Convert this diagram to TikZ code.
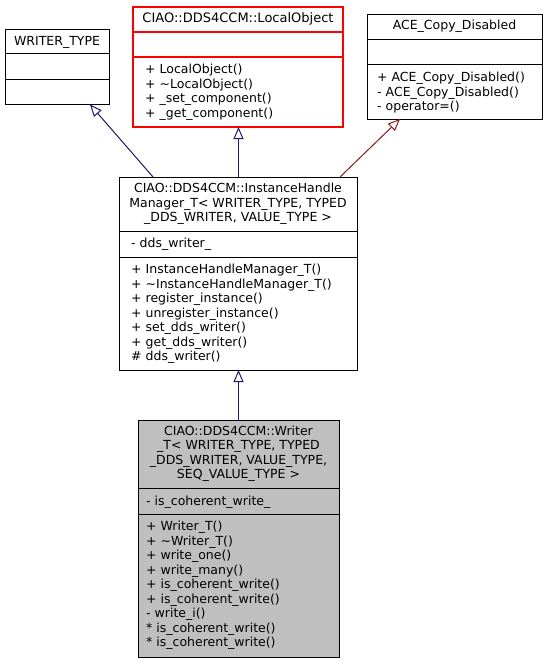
\documentclass[tikz,border=0pt]{standalone}
\usepackage{fontspec}
\setmainfont{DejaVu Sans}
\usetikzlibrary{arrows.meta}

\definecolor{edgeblue}{HTML}{191970}
\definecolor{edgered}{HTML}{8B1A1A}
\definecolor{classgray}{HTML}{BFBFBF}
\definecolor{boxred}{HTML}{FF0000}

\tikzset{
  umlbox/.style={draw, line width=1pt, anchor=north west, inner sep=0pt, outer sep=0pt},
  umltitle/.style={anchor=base, inner sep=0pt, font=\fontsize{12.5}{14.5}\selectfont},
  umlmember/.style={anchor=base west, inner sep=0pt, font=\fontsize{12.5}{14.5}\selectfont},
  inherit/.style={line width=1pt, -{Triangle[length=12pt, width=10pt, fill=white]}}
}

\begin{document}
\begin{tikzpicture}[x=1pt, y=-1pt]
\useasboundingbox (0,0) rectangle (547,664);

% WRITER_TYPE
\node[umlbox, minimum width=104pt, minimum height=75pt] (wtype) at (5,29) {};
\draw[line width=1pt] (wtype.west |- 0,53) -- (wtype.east |- 0,53);
\draw[line width=1pt] (wtype.west |- 0,79) -- (wtype.east |- 0,79);
\node[umltitle] (wtypet) at (57,45.5) {WRITER\_TYPE};

% LocalObject (rosso)
\node[umlbox, draw=boxred, line width=1.3pt, minimum width=210pt, minimum height=120pt] (lobj) at (133,7) {};
\draw[boxred, line width=1.3pt] (lobj.west |- 0,32) -- (lobj.east |- 0,32);
\draw[boxred, line width=1.3pt] (lobj.west |- 0,57) -- (lobj.east |- 0,57);
\node[umltitle, font=\fontsize{13}{14.5}\selectfont] (lobjt) at (238,22.5) {CIAO::DDS4CCM::LocalObject};
\foreach \m [count=\i from 0] in {+ LocalObject(), + \textasciitilde LocalObject(),
    + \_set\_component(), + \_get\_component()}
  \node[umlmember] (lobjm\i) at (145,{73.5+14.5*\i}) {\m};

% ACE_Copy_Disabled
\node[umlbox, minimum width=175pt, minimum height=105pt] (ace) at (367,14) {};
\draw[line width=1pt] (ace.west |- 0,39) -- (ace.east |- 0,39);
\draw[line width=1pt] (ace.west |- 0,64) -- (ace.east |- 0,64);
\node[umltitle] (acet) at (454.5,29.5) {ACE\_Copy\_Disabled};
\foreach \m [count=\i from 0] in {+ ACE\_Copy\_Disabled(), - ACE\_Copy\_Disabled(), - operator=()}
  \node[umlmember] (acem\i) at (377,{81.5+14.5*\i}) {\m};

% InstanceHandleManager_T
\node[umlbox, minimum width=238pt, minimum height=193pt] (ihm) at (119,177) {};
\draw[line width=1pt] (ihm.west |- 0,231) -- (ihm.east |- 0,231);
\draw[line width=1pt] (ihm.west |- 0,257) -- (ihm.east |- 0,257);
\foreach \t [count=\i from 0] in {CIAO::DDS4CCM::InstanceHandle, {Manager\_T< WRITER\_TYPE, TYPED},
    \_DDS\_WRITER{,} VALUE\_TYPE >}
  \node[umltitle] (ihmt\i) at (238,{192.5+14.5*\i}) {\t};
\node[umlmember] (ihma) at (131,247.5) {- dds\_writer\_};
\foreach \m [count=\i from 0] in {+ InstanceHandleManager\_T(), + \textasciitilde InstanceHandleManager\_T(),
    + register\_instance(), + unregister\_instance(), + set\_dds\_writer(),
    + get\_dds\_writer(), \# dds\_writer()}
  \node[umlmember] (ihmm\i) at (131,{273.5+14.5*\i}) {\m};

% Writer_T (grigio)
\node[umlbox, fill=classgray, minimum width=201pt, minimum height=237pt] (wrt) at (138,420) {};
\draw[line width=1pt] (wrt.west |- 0,488) -- (wrt.east |- 0,488);
\draw[line width=1pt] (wrt.west |- 0,514) -- (wrt.east |- 0,514);
\foreach \t [count=\i from 0] in {CIAO::DDS4CCM::Writer, {\_T< WRITER\_TYPE, TYPED},
    {\_DDS\_WRITER, VALUE\_TYPE,}, SEQ\_VALUE\_TYPE >}
  \node[umltitle] (wrtt\i) at (238.5,{435+14.5*\i}) {\t};
\node[umlmember] (wrta) at (146,505.5) {- is\_coherent\_write\_};
\foreach \m [count=\i from 0] in {+ Writer\_T(), + \textasciitilde Writer\_T(), + write\_one(),
    + write\_many(), + is\_coherent\_write(), + is\_coherent\_write(), - write\_i(),
    * is\_coherent\_write(), * is\_coherent\_write()}
  \node[umlmember] (wrtm\i) at (146,{530.5+14.5*\i}) {\m};

% ereditarieta'
\coordinate (ihm-wt) at (153,177);
\coordinate (wt-ihm) at (90,104.5);
\coordinate (ihm-lo) at (238.5,177);
\coordinate (lo-ihm) at (238.5,127);
\coordinate (ihm-ace) at (340,177);
\coordinate (ace-ihm) at (400,119);
\coordinate (wrt-ihm) at (238.5,420);
\coordinate (ihm-wrt) at (238.5,370);

\draw[inherit, edgeblue] (ihm-wt) -- (wt-ihm);
\draw[inherit, edgeblue] (ihm-lo) -- (lo-ihm);
\draw[inherit, edgered] (ihm-ace) -- (ace-ihm);
\draw[inherit, edgeblue] (wrt-ihm) -- (ihm-wrt);
\end{tikzpicture}
\end{document}
